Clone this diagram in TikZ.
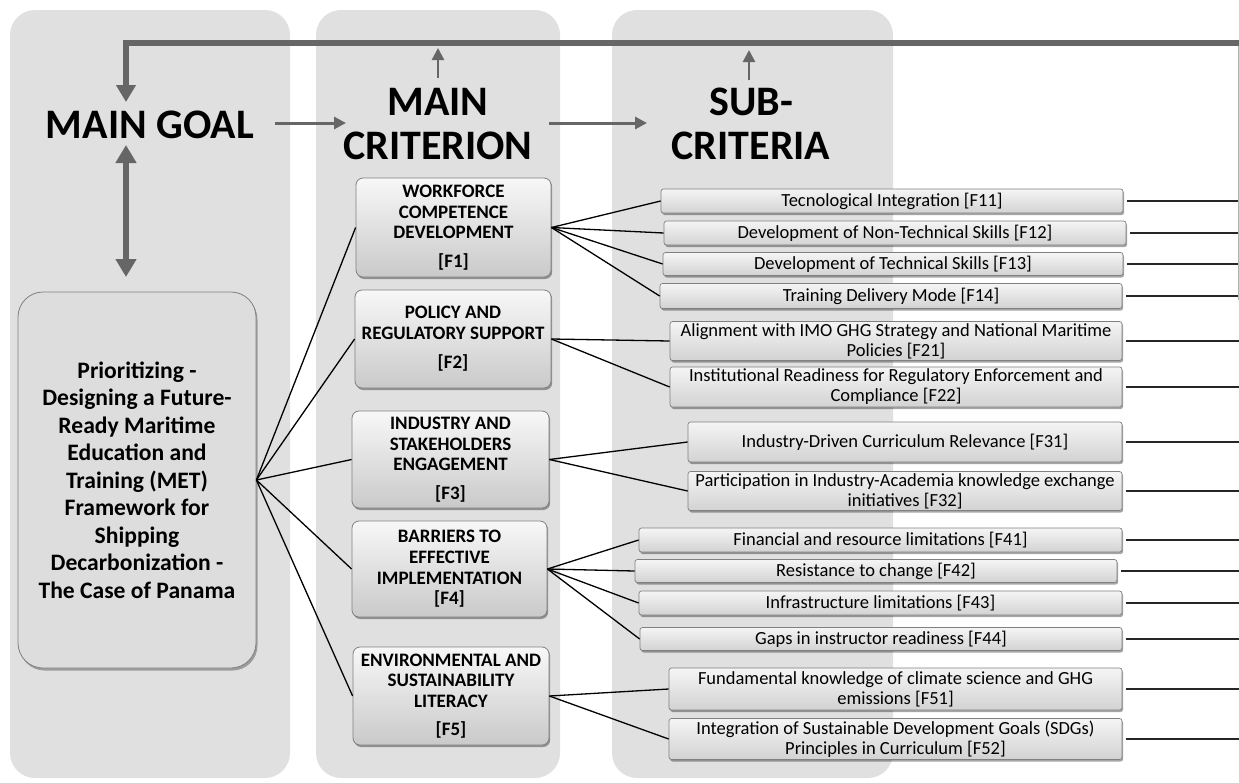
\documentclass[tikz,border=0pt]{standalone}
\usepackage{fontspec}
\setmainfont{Carlito}
\usetikzlibrary{shadows,arrows.meta}
\definecolor{panelgray}{RGB}{224,224,224}
\definecolor{arrowgray}{RGB}{102,102,102}
\definecolor{boxborder}{RGB}{128,128,128}
\begin{document}
\begin{tikzpicture}[x=1pt,y=-1pt,
  panel/.style={fill=panelgray, rounded corners=25pt},
  title/.style={font=\fontsize{42}{44}\selectfont\bfseries, align=center, inner sep=0pt},
  critbox/.style={draw=boxborder, line width=0.8pt, rounded corners=7pt,
    top color=gray!6, bottom color=gray!42, inner sep=0pt, align=center,
    font=\fontsize{19}{20.7}\selectfont\bfseries,
    drop shadow={shadow xshift=1.2pt, shadow yshift=-2pt, fill=black, opacity=0.35}},
  subbox/.style={draw=boxborder, line width=0.7pt, rounded corners=2.5pt,
    top color=gray!8, bottom color=gray!35, inner sep=0pt, align=center,
    font=\fontsize{18.5}{20}\selectfont,
    drop shadow={shadow xshift=1.2pt, shadow yshift=-2pt, fill=black, opacity=0.35}},
  goalbox/.style={draw=boxborder, line width=0.8pt, rounded corners=25pt, fill=gray!27,
    inner sep=0pt, align=center, font=\fontsize{23.6}{27.5}\selectfont\bfseries,
    drop shadow={shadow xshift=1.5pt, shadow yshift=-2.5pt, fill=black, opacity=0.3}},
  conn/.style={line width=1.3pt, black},
  rconn/.style={line width=2.2pt, black!85},
  bigarrow/.style={draw=arrowgray, line width=6pt, -{Triangle[width=19pt,length=17pt]}},
  dblarrow/.style={draw=arrowgray, line width=6pt, {Triangle[width=20pt,length=18pt]}-{Triangle[width=20pt,length=18pt]}},
  midarrow/.style={draw=arrowgray, line width=3pt, -{Triangle[width=12pt,length=12pt]}},
]
\useasboundingbox (0,0) rectangle (1239,782);

% background panels
\fill[panel] (10,10) rectangle (290,778);
\fill[panel] (316,10) rectangle (560,778);
\fill[panel] (612,10) rectangle (893,778);

% titles
\node[title] (maingoal) at (150,125) {MAIN GOAL};
\node[title] (maincrit) at (438,124) {MAIN\\CRITERION};
\node[title] (subcrit) at (751,124) {SUB-\\CRITERIA};

% goal box
\node[goalbox, minimum width=238pt, minimum height=376pt] (goal) at (137,480)
  {Prioritizing -\\Designing a Future-\\Ready Maritime\\Education and\\Training (MET)\\Framework for\\Shipping\\Decarbonization -\\The Case of Panama};

% criteria
\node[critbox, minimum width=195pt, minimum height=99pt] (F1) at (453.5,227.5)
  {WORKFORCE\\COMPETENCE\\DEVELOPMENT\\[7.5pt]{[F1]}};
\node[critbox, minimum width=196pt, minimum height=98pt] (F2) at (453,339)
  {POLICY AND\\REGULATORY SUPPORT\\[8.5pt]{[F2]}};
\node[critbox, minimum width=197pt, minimum height=97pt] (F3) at (450.5,459.5)
  {INDUSTRY AND\\STAKEHOLDERS\\ENGAGEMENT\\[7.5pt]{[F3]}};
\node[critbox, minimum width=195pt, minimum height=96pt] (F4) at (449.5,569)
  {BARRIERS TO\\EFFECTIVE\\IMPLEMENTATION\\{[F4]}};
\node[critbox, minimum width=196pt, minimum height=98pt] (F5) at (451,696)
  {ENVIRONMENTAL AND\\SUSTAINABILITY\\LITERACY\\[7.5pt]{[F5]}};

% sub-criteria
\node[subbox, minimum width=462pt, minimum height=24pt] (F11) at (892,201) {Tecnological Integration [F11]};
\node[subbox, minimum width=462pt, minimum height=24pt] (F12) at (895,233) {Development of Non-Technical Skills [F12]};
\node[subbox, minimum width=460pt, minimum height=23pt] (F13) at (893,264) {Development of Technical Skills [F13]};
\node[subbox, minimum width=462pt, minimum height=25pt] (F14) at (891,296) {Training Delivery Mode [F14]};
\node[subbox, minimum width=452pt, minimum height=39pt] (F21) at (896,341) {Alignment with IMO GHG Strategy and National Maritime\\Policies [F21]};
\node[subbox, minimum width=452pt, minimum height=40pt] (F22) at (896,387) {Institutional Readiness for Regulatory Enforcement and\\Compliance [F22]};
\node[subbox, minimum width=434pt, minimum height=40pt] (F31) at (905,442) {Industry-Driven Curriculum Relevance [F31]};
\node[subbox, minimum width=434pt, minimum height=39pt] (F32) at (905,491) {Participation in Industry-Academia knowledge exchange\\initiatives [F32]};
\node[subbox, minimum width=483pt, minimum height=24pt] (F41) at (880.5,540) {Financial and resource limitations [F41]};
\node[subbox, minimum width=482pt, minimum height=23pt] (F42) at (876,571) {Resistance to change [F42]};
\node[subbox, minimum width=483pt, minimum height=24pt] (F43) at (880.5,603) {Infrastructure limitations [F43]};
\node[subbox, minimum width=482pt, minimum height=23pt] (F44) at (881,639) {Gaps in instructor readiness [F44]};
\node[subbox, minimum width=453pt, minimum height=42pt] (F51) at (895.5,689) {Fundamental knowledge of climate science and GHG\\emissions [F51]};
\node[subbox, minimum width=453pt, minimum height=41pt] (F52) at (895.5,739) {Integration of Sustainable Development Goals (SDGs)\\Principles in Curriculum [F52]};

% goal to criteria
\foreach \c in {F1,F2,F3,F4,F5} \draw[conn] (goal.east) -- (\c.west);
% criteria to sub-criteria
\foreach \c/\s in {F1/F11,F1/F12,F1/F13,F1/F14,F2/F21,F2/F22,F3/F31,F3/F32,F4/F41,F4/F42,F4/F43,F4/F44,F5/F51,F5/F52}
  \draw[conn] (\c.east) -- (\s.west);

% right-hand lines
\coordinate (redge) at (1239,0);
\foreach \s in {F11,F12,F13,F14,F21,F22,F31,F32,F41,F42,F43,F44,F51,F52}
  \draw[rconn] ([xshift=4pt]\s.east) -- (\s.east -| redge);

% top feedback line
\coordinate (topright) at (1239,42.5);
\coordinate (topleft) at (126,42.5);
\coordinate (goaltip) at (126,102);
\draw[gray!60, line width=1.2pt] (1238.4,42.5) -- (1238.4,300);
\draw[bigarrow] (topright) -- (topleft) -- (goaltip);

% small up arrows
\coordinate (ca1) at (438,78);
\coordinate (ca2) at (438,48);
\coordinate (sa1) at (749,80);
\coordinate (sa2) at (749,50);
\draw[midarrow, line width=2.5pt] (ca1) -- (ca2);
\draw[midarrow, line width=2.5pt] (sa1) -- (sa2);

% horizontal arrows
\coordinate (h1a) at (275,123);
\coordinate (h1b) at (346,123);
\coordinate (h2a) at (549,123);
\coordinate (h2b) at (647,123);
\draw[midarrow] (h1a) -- (h1b);
\draw[midarrow] (h2a) -- (h2b);

% double arrow
\coordinate (d1) at (126,145);
\coordinate (d2) at (126,277);
\draw[dblarrow] (d1) -- (d2);
\end{tikzpicture}
\end{document}
